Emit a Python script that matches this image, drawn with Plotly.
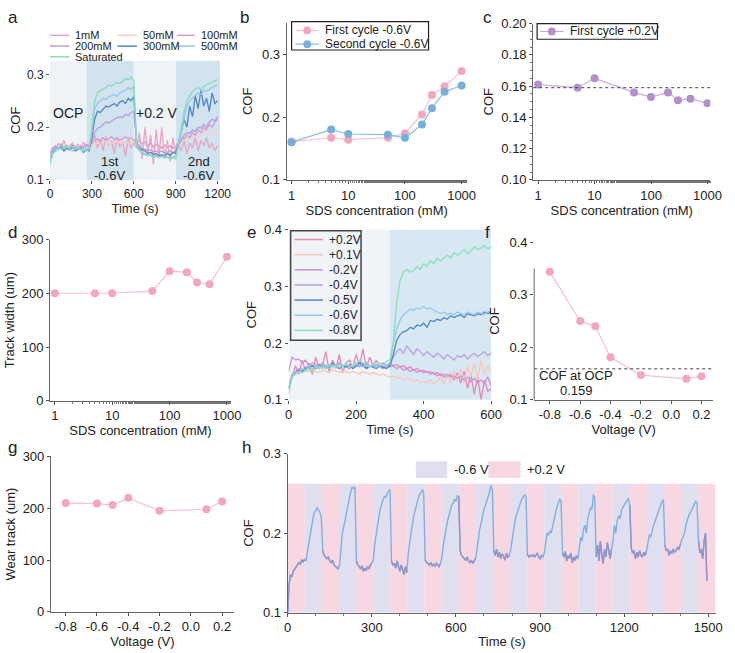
import plotly.graph_objects as go

# ------------------------------------------------------------------ data
conc = [1, 5, 10, 50, 100, 200, 300, 500, 1000]
b_first = [0.161, 0.167, 0.164, 0.167, 0.174, 0.204, 0.235, 0.249, 0.273]
b_second = [0.160, 0.180, 0.173, 0.172, 0.167, 0.188, 0.214, 0.240, 0.250]
c_first_pos = [0.161, 0.159, 0.165, 0.156, 0.153, 0.156, 0.151, 0.152, 0.149]
d_width = [200, 200, 200, 204, 241, 239, 220, 217, 268]
volt = [-0.8, -0.6, -0.5, -0.4, -0.2, 0.1, 0.2]
f_cof = [0.344, 0.250, 0.240, 0.181, 0.147, 0.140, 0.145]
g_wear = [210, 209, 206, 220, 195, 198, 213]
ocp_cof = 0.159

# panel a : COF vs time for SDS concentrations (20 s sampling)
a_time = list(range(0, 1201, 20))
a_1mM = [0.14, 0.16, 0.155, 0.17, 0.16, 0.175, 0.158, 0.165, 0.17, 0.155, 0.168, 0.16, 0.172, 0.158, 0.165,
         0.17, 0.185, 0.16, 0.178, 0.155, 0.182, 0.165, 0.175, 0.15, 0.18, 0.162, 0.172, 0.145, 0.178, 0.16, 0.17,
         0.16, 0.19, 0.14, 0.2, 0.15, 0.185, 0.13, 0.195, 0.145, 0.2, 0.14, 0.175, 0.135, 0.18, 0.15,
         0.165, 0.155, 0.175, 0.15, 0.17, 0.16, 0.18, 0.155, 0.175, 0.165, 0.18, 0.16, 0.17, 0.155, 0.165]
a_50mM = [0.145, 0.155, 0.16, 0.158, 0.162, 0.16, 0.165, 0.158, 0.162, 0.16, 0.163, 0.158, 0.16, 0.162, 0.16,
          0.165, 0.17, 0.168, 0.172, 0.17, 0.175, 0.168, 0.172, 0.17, 0.174, 0.17, 0.168, 0.172, 0.17, 0.175, 0.172,
          0.168, 0.165, 0.17, 0.166, 0.168, 0.164, 0.167, 0.165, 0.168, 0.163, 0.166, 0.165, 0.162, 0.165, 0.163,
          0.168, 0.172, 0.175, 0.18, 0.178, 0.185, 0.18, 0.19, 0.185, 0.195, 0.188, 0.19, 0.185, 0.192, 0.195]
a_100mM = [0.15, 0.16, 0.165, 0.16, 0.168, 0.162, 0.165, 0.16, 0.167, 0.163, 0.16, 0.165, 0.162, 0.168, 0.165,
           0.17, 0.175, 0.178, 0.172, 0.18, 0.175, 0.178, 0.182, 0.176, 0.18, 0.175, 0.178, 0.182, 0.178, 0.18, 0.176,
           0.17, 0.175, 0.168, 0.172, 0.165, 0.17, 0.162, 0.168, 0.165, 0.16, 0.166, 0.162, 0.165, 0.16, 0.163,
           0.17, 0.18, 0.178, 0.185, 0.18, 0.19, 0.185, 0.195, 0.19, 0.2, 0.195, 0.205, 0.2, 0.21, 0.215]
a_200mM = [0.15, 0.16, 0.162, 0.158, 0.165, 0.16, 0.163, 0.158, 0.16, 0.162, 0.158, 0.16, 0.163, 0.165, 0.162,
           0.175, 0.19, 0.198, 0.2, 0.205, 0.21, 0.208, 0.212, 0.215, 0.218, 0.22, 0.218, 0.225, 0.222, 0.228, 0.23,
           0.17, 0.165, 0.16, 0.158, 0.155, 0.157, 0.153, 0.155, 0.152, 0.155, 0.15, 0.153, 0.155, 0.152, 0.155,
           0.165, 0.175, 0.185, 0.19, 0.188, 0.195, 0.192, 0.2, 0.198, 0.205, 0.2, 0.21, 0.215, 0.212, 0.22]
a_300mM = [0.14, 0.15, 0.16, 0.158, 0.162, 0.155, 0.16, 0.157, 0.163, 0.155, 0.158, 0.16, 0.152, 0.158, 0.155,
           0.18, 0.215, 0.23, 0.228, 0.235, 0.24, 0.238, 0.242, 0.245, 0.24, 0.248, 0.25, 0.245, 0.255, 0.25, 0.258,
           0.165, 0.16, 0.158, 0.155, 0.15, 0.152, 0.148, 0.15, 0.146, 0.148, 0.145, 0.15, 0.147, 0.152, 0.15,
           0.17, 0.19, 0.215, 0.2, 0.24, 0.22, 0.26, 0.235, 0.27, 0.24, 0.255, 0.23, 0.265, 0.245, 0.25]
a_500mM = [0.14, 0.155, 0.16, 0.158, 0.165, 0.16, 0.162, 0.158, 0.155, 0.16, 0.162, 0.158, 0.16, 0.155, 0.158,
           0.19, 0.235, 0.245, 0.25, 0.255, 0.252, 0.258, 0.26, 0.262, 0.258, 0.265, 0.268, 0.27, 0.275, 0.272, 0.278,
           0.162, 0.155, 0.15, 0.148, 0.146, 0.147, 0.143, 0.145, 0.142, 0.144, 0.145, 0.143, 0.142, 0.144, 0.145,
           0.165, 0.19, 0.22, 0.24, 0.25, 0.255, 0.26, 0.265, 0.262, 0.27, 0.268, 0.272, 0.275, 0.278, 0.28]
a_sat = [0.13, 0.15, 0.155, 0.16, 0.158, 0.162, 0.165, 0.16, 0.163, 0.158, 0.16, 0.157, 0.155, 0.158, 0.16,
         0.2, 0.25, 0.265, 0.27, 0.272, 0.275, 0.28, 0.278, 0.282, 0.285, 0.283, 0.288, 0.292, 0.29, 0.295, 0.288,
         0.165, 0.158, 0.152, 0.15, 0.148, 0.146, 0.145, 0.147, 0.143, 0.145, 0.142, 0.144, 0.14, 0.142, 0.14,
         0.17, 0.2, 0.23, 0.25, 0.26, 0.268, 0.272, 0.275, 0.27, 0.278, 0.28, 0.283, 0.285, 0.288, 0.29]
a_names = ["1mM", "50mM", "100mM", "200mM", "300mM", "500mM", "Saturated"]
a_series = [a_1mM, a_50mM, a_100mM, a_200mM, a_300mM, a_500mM, a_sat]
a_colors = ["#eba3c2", "#f7cdc4", "#d99ad3", "#b89de0", "#4f86c6", "#93c6ec", "#86dcb6"]
a_regions = [(0, 262, "#eef3f8"), (262, 600, "#d0e3ef"), (600, 902, "#eef3f8"), (902, 1218, "#d0e3ef")]

# panel e : COF vs time for potentials (10 s sampling)
e_time = list(range(0, 601, 10))
e_p02 = [0.12, 0.14, 0.16, 0.145, 0.17, 0.15, 0.165, 0.145, 0.175, 0.155,
         0.16, 0.185, 0.15, 0.17, 0.155, 0.18, 0.148, 0.165, 0.17, 0.155,
         0.18, 0.16, 0.19, 0.155, 0.175, 0.16, 0.17, 0.158, 0.165, 0.16,
         0.165, 0.16, 0.162, 0.158, 0.16, 0.155, 0.158, 0.152, 0.155, 0.15,
         0.152, 0.148, 0.15, 0.145, 0.148, 0.142, 0.145, 0.14, 0.145, 0.135,
         0.148, 0.13, 0.15, 0.12, 0.145, 0.11, 0.14, 0.1, 0.135, 0.115, 0.12]
e_p01 = [0.13, 0.14, 0.145, 0.15, 0.148, 0.152, 0.15, 0.155, 0.15, 0.148,
         0.152, 0.15, 0.148, 0.153, 0.15, 0.148, 0.152, 0.15, 0.147, 0.15,
         0.148, 0.145, 0.15, 0.147, 0.145, 0.148, 0.145, 0.143, 0.146, 0.142,
         0.14, 0.142, 0.138, 0.14, 0.135, 0.138, 0.136, 0.132, 0.135, 0.13,
         0.133, 0.13, 0.135, 0.128, 0.132, 0.14, 0.128, 0.145, 0.13, 0.15,
         0.135, 0.155, 0.13, 0.16, 0.14, 0.165, 0.135, 0.17, 0.145, 0.16, 0.15]
e_m02 = [0.15, 0.175, 0.17, 0.172, 0.165, 0.17, 0.16, 0.165, 0.162, 0.158,
         0.165, 0.16, 0.155, 0.162, 0.158, 0.165, 0.16, 0.158, 0.155, 0.16,
         0.162, 0.158, 0.16, 0.155, 0.158, 0.16, 0.162, 0.158, 0.155, 0.16,
         0.158, 0.16, 0.155, 0.158, 0.152, 0.155, 0.15, 0.153, 0.148, 0.152,
         0.148, 0.15, 0.145, 0.148, 0.142, 0.146, 0.14, 0.145, 0.14, 0.142,
         0.138, 0.142, 0.135, 0.14, 0.132, 0.138, 0.13, 0.135, 0.128, 0.14, 0.125]
e_m04 = [0.12, 0.145, 0.15, 0.155, 0.15, 0.158, 0.155, 0.16, 0.158, 0.162,
         0.16, 0.155, 0.162, 0.158, 0.16, 0.165, 0.16, 0.158, 0.162, 0.16,
         0.158, 0.162, 0.16, 0.165, 0.16, 0.158, 0.162, 0.16, 0.158, 0.16,
         0.162, 0.175, 0.185, 0.19, 0.182, 0.195, 0.188, 0.18, 0.19, 0.185,
         0.178, 0.185, 0.18, 0.175, 0.182, 0.178, 0.172, 0.18, 0.175, 0.17,
         0.178, 0.175, 0.18, 0.172, 0.178, 0.182, 0.176, 0.18, 0.185, 0.178, 0.182]
e_m05 = [0.12, 0.14, 0.148, 0.152, 0.15, 0.155, 0.158, 0.16, 0.155, 0.162,
         0.158, 0.16, 0.155, 0.165, 0.16, 0.155, 0.16, 0.158, 0.162, 0.155,
         0.16, 0.165, 0.162, 0.155, 0.16, 0.158, 0.155, 0.16, 0.158, 0.155,
         0.16, 0.18, 0.205, 0.215, 0.22, 0.222, 0.228, 0.225, 0.232, 0.23,
         0.235, 0.228, 0.24, 0.238, 0.242, 0.24, 0.245, 0.242, 0.248, 0.245,
         0.248, 0.25, 0.245, 0.252, 0.25, 0.248, 0.252, 0.25, 0.255, 0.252, 0.255]
e_m06 = [0.12, 0.14, 0.15, 0.148, 0.155, 0.152, 0.16, 0.155, 0.158, 0.16,
         0.155, 0.16, 0.158, 0.162, 0.16, 0.157, 0.16, 0.163, 0.158, 0.16,
         0.165, 0.16, 0.158, 0.162, 0.16, 0.163, 0.158, 0.16, 0.162, 0.16,
         0.165, 0.2, 0.225, 0.24, 0.25, 0.255, 0.26, 0.258, 0.262, 0.26,
         0.265, 0.26, 0.262, 0.258, 0.255, 0.252, 0.255, 0.25, 0.253, 0.25,
         0.255, 0.252, 0.25, 0.255, 0.252, 0.25, 0.255, 0.253, 0.25, 0.255, 0.258]
e_m08 = [0.11, 0.14, 0.145, 0.15, 0.148, 0.152, 0.155, 0.15, 0.158, 0.155,
         0.16, 0.157, 0.155, 0.16, 0.158, 0.162, 0.158, 0.165, 0.16, 0.158,
         0.162, 0.17, 0.165, 0.16, 0.158, 0.162, 0.16, 0.165, 0.162, 0.168,
         0.17, 0.2, 0.27, 0.31, 0.325, 0.33, 0.325, 0.328, 0.335, 0.33,
         0.34, 0.335, 0.345, 0.34, 0.35, 0.345, 0.35, 0.355, 0.35, 0.36,
         0.355, 0.36, 0.365, 0.358, 0.362, 0.37, 0.365, 0.368, 0.372, 0.366, 0.37]
e_names = ["+0.2V", "+0.1V", "-0.2V", "-0.4V", "-0.5V", "-0.6V", "-0.8V"]
e_series = [e_p02, e_p01, e_m02, e_m04, e_m05, e_m06, e_m08]
e_colors = ["#e887b2", "#f8c6b8", "#cc94d6", "#b79fe2", "#4f86c6", "#93c8ee", "#86e0b8"]
e_regions = [(0, 300, "#f0f4f8"), (300, 600, "#d8e8f3")]

# panel h : cycling between +0.2 V and -0.6 V (5 s sampling)
h_time = list(range(0, 1500, 5))
h_cof = [
    0.10, 0.135, 0.148, 0.145, 0.152, 0.155, 0.157, 0.16, 0.163, 0.161, 0.166, 0.164,
    0.167, 0.165, 0.176, 0.19, 0.2, 0.21, 0.218, 0.226, 0.228, 0.232, 0.229, 0.226,
    0.22, 0.178, 0.172, 0.17, 0.168, 0.17, 0.165, 0.163, 0.166, 0.16, 0.158, 0.157,
    0.155, 0.16, 0.183, 0.2, 0.208, 0.218, 0.228, 0.238, 0.244, 0.252, 0.258, 0.256,
    0.258, 0.165, 0.16, 0.158, 0.155, 0.159, 0.152, 0.156, 0.153, 0.158, 0.155, 0.16,
    0.162, 0.165, 0.185, 0.198, 0.21, 0.22, 0.23, 0.237, 0.242, 0.246, 0.245, 0.25,
    0.253, 0.255, 0.165, 0.16, 0.162, 0.156, 0.165, 0.158, 0.152, 0.16, 0.155, 0.148,
    0.158, 0.15, 0.175, 0.19, 0.2, 0.212, 0.222, 0.23, 0.238, 0.243, 0.248, 0.25,
    0.254, 0.252, 0.166, 0.163, 0.162, 0.16, 0.163, 0.159, 0.161, 0.158, 0.162, 0.16,
    0.158, 0.162, 0.17, 0.185, 0.197, 0.205, 0.215, 0.222, 0.23, 0.235, 0.238, 0.242,
    0.24, 0.247, 0.246, 0.178, 0.172, 0.17, 0.168, 0.166, 0.17, 0.165, 0.163, 0.166,
    0.162, 0.165, 0.168, 0.18, 0.195, 0.205, 0.213, 0.222, 0.23, 0.235, 0.24, 0.245,
    0.252, 0.26, 0.255, 0.178, 0.172, 0.18, 0.17, 0.176, 0.168, 0.174, 0.171, 0.166,
    0.175, 0.17, 0.172, 0.178, 0.192, 0.205, 0.214, 0.222, 0.228, 0.233, 0.24, 0.243,
    0.245, 0.248, 0.246, 0.173, 0.17, 0.172, 0.171, 0.173, 0.17, 0.172, 0.175, 0.17,
    0.168, 0.172, 0.17, 0.175, 0.19, 0.2, 0.198, 0.203, 0.2, 0.21, 0.22, 0.225,
    0.232, 0.238, 0.243, 0.24, 0.175, 0.17, 0.177, 0.165, 0.172, 0.168, 0.175, 0.163,
    0.17, 0.166, 0.172, 0.168, 0.18, 0.195, 0.19, 0.205, 0.21, 0.2, 0.218, 0.225,
    0.232, 0.23, 0.248, 0.245, 0.17, 0.185, 0.165, 0.19, 0.172, 0.162, 0.18, 0.17,
    0.188, 0.175, 0.168, 0.18, 0.19, 0.21, 0.2, 0.215, 0.222, 0.218, 0.228, 0.232,
    0.235, 0.238, 0.24, 0.244, 0.236, 0.182, 0.175, 0.178, 0.168, 0.176, 0.17, 0.178,
    0.172, 0.17, 0.176, 0.172, 0.178, 0.19, 0.198, 0.195, 0.205, 0.21, 0.215, 0.22,
    0.225, 0.23, 0.235, 0.24, 0.242, 0.185, 0.178, 0.18, 0.172, 0.178, 0.174, 0.18,
    0.176, 0.178, 0.182, 0.18, 0.185, 0.192, 0.195, 0.2, 0.21, 0.218, 0.222, 0.225,
    0.228, 0.232, 0.236, 0.24, 0.238, 0.19, 0.175, 0.18, 0.168, 0.19, 0.2, 0.14,
]
h_period = 61          # s per potential step
h_steps = 25           # number of steps shown (starting at +0.2 V)
h_colors = {"+0.2 V": "#f6d7e2", "-0.6 V": "#dfdfef"}

# ------------------------------------------------------------------ helpers
W, H = 735, 653
FONT = "Liberation Sans, Arial, sans-serif"


def dx(x0, x1):
    return [x0 / W, x1 / W]


def dy(y0, y1):
    return [1 - y1 / H, 1 - y0 / H]


def px(x):
    return x / W


def py(y):
    return 1 - y / H


shapes, annotations = [], []


def text(x, y, s, size=13, xanchor="center", yanchor="middle", color="#222"):
    annotations.append(dict(x=px(x), y=py(y), xref="paper", yref="paper", text=s, showarrow=False,
                            xanchor=xanchor, yanchor=yanchor, font=dict(size=size, color=color, family=FONT)))


def leg_item(x0, x1, y, color, label, tx, size=12, marker=None, width=1.5):
    shapes.append(dict(type="line", xref="paper", yref="paper", x0=px(x0), x1=px(x1), y0=py(y), y1=py(y),
                       line=dict(color=color, width=width)))
    if marker:
        cx = (x0 + x1) / 2
        r = 4
        shapes.append(dict(type="circle", xref="paper", yref="paper", x0=px(cx - r), x1=px(cx + r),
                           y0=py(y + r), y1=py(y - r), fillcolor=marker, line=dict(width=0)))
    text(tx, y, label, size=size, xanchor="left")


def box(x0, y0, x1, y1, color="#333", width=1, fill="rgba(0,0,0,0)"):
    shapes.append(dict(type="rect", xref="paper", yref="paper", x0=px(x0), x1=px(x1), y0=py(y1), y1=py(y0),
                       line=dict(color=color, width=width), fillcolor=fill))


def axis(domain, anchor, **kw):
    d = dict(domain=domain, anchor=anchor, showgrid=False, zeroline=False, ticks="outside", ticklen=3,
             tickwidth=1, tickcolor="#555", showline=True, linecolor="#666", linewidth=1,
             tickfont=dict(size=13, color="#222", family=FONT), title=dict(font=dict(size=13, family=FONT)))
    d.update(kw)
    return d


fig = go.Figure()
minor_log = dict(ticks="outside", ticklen=2, tickcolor="#777")

# ------------------------------------------------------------------ panel a
for (t0, t1, col) in a_regions:
    shapes.append(dict(type="rect", xref="x", yref="y domain", x0=t0, x1=t1, y0=0, y1=1,
                       fillcolor=col, line=dict(width=0), layer="below"))
for name, ys, col in zip(a_names, a_series, a_colors):
    fig.add_trace(go.Scatter(x=a_time, y=ys, mode="lines", name=name, line=dict(color=col, width=1.3),
                             xaxis="x", yaxis="y", showlegend=False))
text(65, 108, "OCP", 14)
text(156, 108, "+0.2 V", 14)
text(108, 158, "1st", 13)
text(108, 172, "-0.6V", 13)
text(199, 158, "2nd", 13)
text(199, 172, "-0.6V", 13)
a_leg_pos = [(47, 67, 29, 71), (116, 136, 29, 140), (177, 195, 29, 199),
             (47, 67, 40, 71), (116, 136, 40, 140), (177, 195, 40, 199), (47, 67, 51, 71)]
for (x0, x1, y, tx), name, col in zip(a_leg_pos, a_names, a_colors):
    leg_item(x0, x1, y, col, name, tx, size=11)

# ------------------------------------------------------------------ panel b
fig.add_trace(go.Scatter(x=conc, y=b_first, mode="lines+markers", name="First cycle -0.6V",
                         line=dict(color="#f6c0d4", width=1.2), marker=dict(color="#f2a6c4", size=8),
                         xaxis="x2", yaxis="y2", showlegend=False))
fig.add_trace(go.Scatter(x=conc, y=b_second, mode="lines+markers", name="Second cycle -0.6V",
                         line=dict(color="#8dbfe4", width=1.2), marker=dict(color="#76afdc", size=8),
                         xaxis="x2", yaxis="y2", showlegend=False))
box(294, 15, 434, 44, color="#222", width=1.2)
leg_item(298, 322, 24, "#f6c0d4", "First cycle -0.6V", 326, size=12, marker="#f2a6c4", width=1.2)
leg_item(298, 322, 38, "#8dbfe4", "Second cycle -0.6V", 326, size=12, marker="#76afdc", width=1.2)

# ------------------------------------------------------------------ panel c
fig.add_trace(go.Scatter(x=conc, y=c_first_pos, mode="lines+markers", name="First cycle +0.2V",
                         line=dict(color="#c9aedb", width=1.2), marker=dict(color="#b48fcb", size=8),
                         xaxis="x3", yaxis="y3", showlegend=False))
shapes.append(dict(type="line", xref="x3 domain", yref="y3", x0=0, x1=1, y0=ocp_cof, y1=ocp_cof,
                   line=dict(color="#444", width=1, dash="dot")))
box(545, 17, 668, 33, color="#222", width=1.2)
leg_item(548, 572, 25, "#c9aedb", "First cycle +0.2V", 577, size=12, marker="#b48fcb", width=1.2)

# ------------------------------------------------------------------ panel d
fig.add_trace(go.Scatter(x=conc, y=d_width, mode="lines+markers", name="Track width",
                         line=dict(color="#f6c0d4", width=1.2), marker=dict(color="#f2a6c4", size=8),
                         xaxis="x4", yaxis="y4", showlegend=False))

# ------------------------------------------------------------------ panel e
for (t0, t1, col) in e_regions:
    shapes.append(dict(type="rect", xref="x5", yref="y5 domain", x0=t0, x1=t1, y0=0, y1=1,
                       fillcolor=col, line=dict(width=0), layer="below"))
for name, ys, col in zip(e_names, e_series, e_colors):
    fig.add_trace(go.Scatter(x=e_time, y=ys, mode="lines", name=name, line=dict(color=col, width=1.3),
                             xaxis="x5", yaxis="y5", showlegend=False))
box(293, 229, 365, 341, color="#444", width=1.5)
for i, (name, col) in enumerate(zip(e_names, e_colors)):
    leg_item(297, 326, 238 + i * 15.5, col, name, 330, size=12)

# ------------------------------------------------------------------ panel f
fig.add_trace(go.Scatter(x=volt, y=f_cof, mode="lines+markers", name="COF",
                         line=dict(color="#f6c0d4", width=1.2), marker=dict(color="#f2a6c4", size=8),
                         xaxis="x6", yaxis="y6", showlegend=False))
shapes.append(dict(type="line", xref="x6 domain", yref="y6", x0=0, x1=1, y0=ocp_cof, y1=ocp_cof,
                   line=dict(color="#444", width=1, dash="dot")))
shapes.append(dict(type="line", xref="x6 domain", yref="y6", x0=0, x1=0, y0=0.1, y1=0.35,
                   line=dict(color="#666", width=1)))
text(585, 377, "COF at OCP", 13)
text(585, 393, f"{ocp_cof:.3f}", 13)

# ------------------------------------------------------------------ panel g
fig.add_trace(go.Scatter(x=volt, y=g_wear, mode="lines+markers", name="Wear track",
                         line=dict(color="#f6c0d4", width=1.2), marker=dict(color="#f2a6c4", size=8),
                         xaxis="x7", yaxis="y7", showlegend=False))

# ------------------------------------------------------------------ panel h
for k in range(h_steps):
    lab = "+0.2 V" if k % 2 == 0 else "-0.6 V"
    shapes.append(dict(type="rect", xref="x8", yref="y8", x0=k * h_period, x1=(k + 1) * h_period,
                       y0=0.1, y1=0.262, fillcolor=h_colors[lab], line=dict(width=0), layer="below"))
fig.add_trace(go.Scatter(x=h_time, y=h_cof, mode="lines", name="COF", line=dict(color="#7fb1de", width=1.4),
                         xaxis="x8", yaxis="y8", showlegend=False))
h_pink = [c if (t // h_period) % 2 == 0 else None for t, c in zip(h_time, h_cof)]
fig.add_trace(go.Scatter(x=h_time, y=h_pink, mode="lines", name="COF (+0.2 V)",
                         line=dict(color="#9095c8", width=1.4), connectgaps=False,
                         xaxis="x8", yaxis="y8", showlegend=False))
shapes.append(dict(type="rect", xref="paper", yref="paper", x0=px(421), x1=px(453), y0=py(482), y1=py(465),
                   fillcolor=h_colors["-0.6 V"], line=dict(width=0)))
text(458, 473, "-0.6 V", 13, xanchor="left")
shapes.append(dict(type="rect", xref="paper", yref="paper", x0=px(495), x1=px(528), y0=py(482), y1=py(465),
                   fillcolor=h_colors["+0.2 V"], line=dict(width=0)))
text(533, 473, "+0.2 V", 13, xanchor="left")

# ------------------------------------------------------------------ panel letters
for lab, x, y in [("a", 9, 11), ("b", 246, 11), ("c", 494, 11), ("d", 9, 231),
                  ("e", 253, 231), ("f", 494, 231), ("g", 9, 451), ("h", 248, 451)]:
    text(x, y, lab, 17)

ttl = lambda s, st=4: dict(text=s, standoff=st, font=dict(size=13, family=FONT, color="#222"))
conc_ticks = dict(tickvals=[1, 10, 100, 1000], ticktext=["1", "10", "100", "1000"])
volt_ticks = dict(tickvals=[-0.8, -0.6, -0.4, -0.2, 0.0, 0.2], ticktext=["-0.8", "-0.6", "-0.4", "-0.2", "0.0", "0.2"])

fig.update_layout(
    width=W, height=H, margin=dict(l=0, r=0, t=0, b=0), showlegend=False,
    paper_bgcolor="white", plot_bgcolor="rgba(0,0,0,0)", font=dict(family=FONT, color="#222"),
    shapes=shapes, annotations=annotations,
    xaxis=axis(dx(47, 221), "y", range=[0, 1218], tickvals=[0, 300, 600, 900, 1200], showline=False,
               tickfont=dict(size=12, family=FONT, color="#222"), title=ttl("Time (s)", 1)),
    yaxis=axis(dy(55, 177), "x", range=[0.1, 0.326], tickvals=[0.1, 0.2, 0.3], showline=False,
               tickfont=dict(size=12, family=FONT, color="#222"), title=ttl("COF", 3)),
    xaxis2=axis(dx(289, 473), "y2", type="log", range=[-0.086, 3.09], minor=minor_log,
                title=ttl("SDS concentration (mM)", 2), **conc_ticks),
    yaxis2=axis(dy(16, 177), "x2", range=[0.1, 0.35], tickvals=[0.1, 0.2, 0.3], title=ttl("COF", 6)),
    xaxis3=axis(dx(541, 722), "y3", type="log", range=[-0.087, 3.05], minor=minor_log,
                title=ttl("SDS concentration (mM)", 2), **conc_ticks),
    yaxis3=axis(dy(17, 177), "x3", range=[0.1, 0.2], tickvals=[0.10, 0.12, 0.14, 0.16, 0.18, 0.20],
                tickformat=".2f", minor=dict(ticks="outside", ticklen=2, tickcolor="#777"), title=ttl("COF", 4)),
    xaxis4=axis(dx(47, 232), "y4", type="log", range=[-0.085, 3.07], minor=minor_log,
                title=ttl("SDS concentration (mM)", 2), **conc_ticks),
    yaxis4=axis(dy(238, 403), "x4", range=[0, 300], tickvals=[0, 100, 200, 300], title=ttl("Track width (um)", 4)),
    xaxis5=axis(dx(291, 498), "y5", range=[0, 600], tickvals=[0, 200, 400, 600], showline=False,
                title=ttl("Time (s)", 2)),
    yaxis5=axis(dy(228, 402), "x5", range=[0.1, 0.4], tickvals=[0.1, 0.2, 0.3, 0.4], showline=False,
                title=ttl("COF", 4)),
    xaxis6=axis(dx(542, 725), "y6", range=[-0.903, 0.277], title=ttl("Voltage (V)", 2), **volt_ticks),
    yaxis6=axis(dy(241, 402), "x6", range=[0.1, 0.4], tickvals=[0.1, 0.2, 0.3, 0.4], showline=False,
                title=ttl("COF", 6)),
    xaxis7=axis(dx(48, 235), "y7", range=[-0.894, 0.275], title=ttl("Voltage (V)", 2), **volt_ticks),
    yaxis7=axis(dy(460, 619), "x7", range=[0, 300], tickvals=[0, 100, 200, 300], title=ttl("Wear track (um)", 4)),
    xaxis8=axis(dx(290, 728), "y8", range=[0, 1528], tickvals=[0, 300, 600, 900, 1200, 1500],
                minor=dict(ticks="outside", ticklen=2, tickcolor="#777", dtick=100), title=ttl("Time (s)", 2)),
    yaxis8=axis(dy(457, 620), "x8", range=[0.1, 0.3], tickvals=[0.1, 0.2, 0.3], title=ttl("COF", 6)),
)

fig.write_html("out.html")
